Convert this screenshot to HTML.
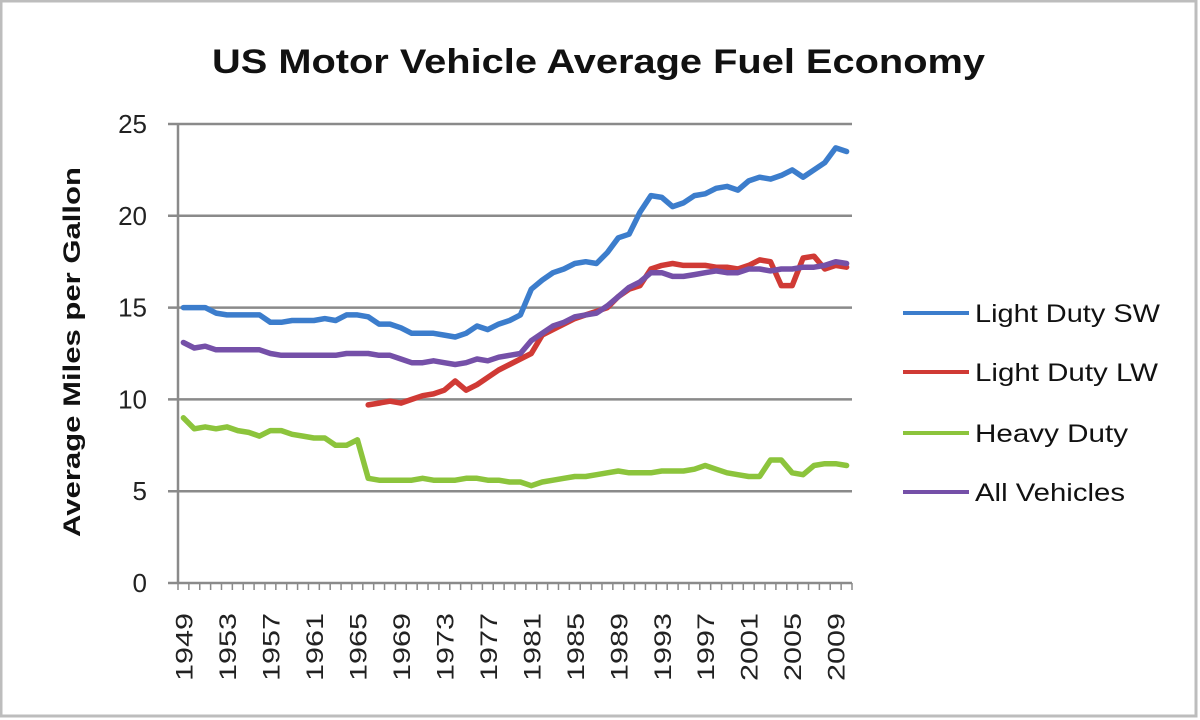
<!DOCTYPE html>
<html><head><meta charset="utf-8"><style>
html,body{margin:0;padding:0;background:#fff;}
svg{display:block;font-family:"Liberation Sans",sans-serif;}
</style></head><body>
<svg id="c" width="1200" height="720" viewBox="0 0 1200 720" xmlns="http://www.w3.org/2000/svg">
<rect x="0" y="0" width="1200" height="720" fill="#fff"/>
<rect x="1" y="1" width="1195" height="715" fill="none" stroke="#bdbdbd" stroke-width="3"/>
<text x="212" y="73" font-size="34" font-weight="bold" fill="#111" textLength="773" lengthAdjust="spacingAndGlyphs">US Motor Vehicle Average Fuel Economy</text>
<text transform="translate(80,352) rotate(-90)" text-anchor="middle" font-size="24" font-weight="bold" fill="#111" textLength="370" lengthAdjust="spacingAndGlyphs">Average Miles per Gallon</text>
<g id="grid" stroke="#8a8a8a" stroke-width="2.5"></g>
<g id="ylab" font-size="26" fill="#222" text-anchor="end"></g>
<g id="xlab" font-size="24" fill="#222"></g>
<g id="series" fill="none" stroke-width="5.5" stroke-linejoin="round" stroke-linecap="round"></g>
<g font-size="25" fill="#111">
<line x1="903" y1="313" x2="969" y2="313" stroke="#3c7dcc" stroke-width="4"/>
<text x="975" y="322" textLength="185" lengthAdjust="spacingAndGlyphs">Light Duty SW</text>
<line x1="903" y1="372" x2="969" y2="372" stroke="#d03a35" stroke-width="4"/>
<text x="975" y="381" textLength="183" lengthAdjust="spacingAndGlyphs">Light Duty LW</text>
<line x1="903" y1="433" x2="969" y2="433" stroke="#8cc43c" stroke-width="4"/>
<text x="975" y="442" textLength="153" lengthAdjust="spacingAndGlyphs">Heavy Duty</text>
<line x1="903" y1="492" x2="969" y2="492" stroke="#7550a8" stroke-width="4"/>
<text x="975" y="501" textLength="150" lengthAdjust="spacingAndGlyphs">All Vehicles</text>
</g>
</svg>
<script>
(function(){
var NS="http://www.w3.org/2000/svg";
function el(p,t,a,txt){var e=document.createElementNS(NS,t);for(var k in a)e.setAttribute(k,a[k]);if(txt!=null)e.textContent=txt;document.getElementById(p).appendChild(e);return e;}
var L=178,R=852,T=124,B=583,N=62,w=(R-L)/N;
function Y(v){return B-v*(B-T)/25;}
function X(i){return L+w*(i+0.5);}
for(var g=0;g<=5;g++){var y=Y(g*5);el("grid","line",{x1:168,x2:R,y1:y,y2:y});el("ylab","text",{x:147,y:y+9},String(g*5));}
el("grid","line",{x1:L,x2:L,y1:T,y2:B});
for(var i=0;i<=N;i++){var x=L+w*i;el("grid","line",{x1:x,x2:x,y1:B,y2:B+7,"stroke-width":1.5});}
for(var yr=1949;yr<=2010;yr+=4){var i=yr-1949;el("xlab","text",{transform:"translate("+(X(i)+9)+",681) rotate(-90)",textLength:68,lengthAdjust:"spacingAndGlyphs"},String(yr));}
var blue=[15,15,15,14.7,14.6,14.6,14.6,14.6,14.2,14.2,14.3,14.3,14.3,14.4,14.3,14.6,14.6,14.5,14.1,14.1,13.9,13.6,13.6,13.6,13.5,13.4,13.6,14,13.8,14.1,14.3,14.6,16,16.5,16.9,17.1,17.4,17.5,17.4,18,18.8,19,20.2,21.1,21,20.5,20.7,21.1,21.2,21.5,21.6,21.4,21.9,22.1,22,22.2,22.5,22.1,22.5,22.9,23.7,23.5];
var purple=[13.1,12.8,12.9,12.7,12.7,12.7,12.7,12.7,12.5,12.4,12.4,12.4,12.4,12.4,12.4,12.5,12.5,12.5,12.4,12.4,12.2,12,12,12.1,12,11.9,12,12.2,12.1,12.3,12.4,12.5,13.2,13.6,14,14.2,14.5,14.6,14.7,15.1,15.6,16.1,16.4,16.9,16.9,16.7,16.7,16.8,16.9,17,16.9,16.9,17.1,17.1,17,17.1,17.1,17.2,17.2,17.3,17.5,17.4];
var red=[9.7,9.8,9.9,9.8,10,10.2,10.3,10.5,11,10.5,10.8,11.2,11.6,11.9,12.2,12.5,13.5,13.8,14.1,14.4,14.6,14.8,15,15.6,16,16.2,17.1,17.3,17.4,17.3,17.3,17.3,17.2,17.2,17.1,17.3,17.6,17.5,16.2,16.2,17.7,17.8,17.1,17.3,17.2];
var green=[9,8.4,8.5,8.4,8.5,8.3,8.2,8,8.3,8.3,8.1,8,7.9,7.9,7.5,7.5,7.8,5.7,5.6,5.6,5.6,5.6,5.7,5.6,5.6,5.6,5.7,5.7,5.6,5.6,5.5,5.5,5.3,5.5,5.6,5.7,5.8,5.8,5.9,6,6.1,6,6,6,6.1,6.1,6.1,6.2,6.4,6.2,6,5.9,5.8,5.8,6.7,6.7,6,5.9,6.4,6.5,6.5,6.4];
function poly(d,off,c){var p=d.map(function(v,j){return X(j+off).toFixed(1)+","+Y(v).toFixed(1);}).join(" ");el("series","polyline",{points:p,stroke:c});}
poly(green,0,"#8cc43c");poly(red,17,"#d03a35");poly(purple,0,"#7550a8");poly(blue,0,"#3c7dcc");
})();
</script>
</body></html>
